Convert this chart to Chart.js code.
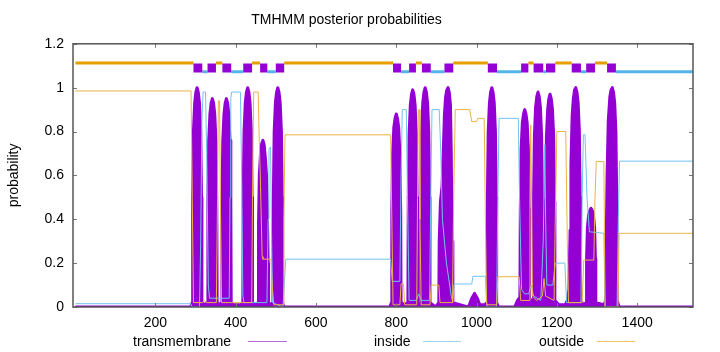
<!DOCTYPE html>
<html>
<head>
<meta charset="utf-8">
<title>TMHMM posterior probabilities</title>
<script src="https://cdn.jsdelivr.net/npm/chart.js@4.4.1/dist/chart.umd.min.js"></script>
<style>
  html, body { margin: 0; padding: 0; background: #fff; }
  #wrap { position: relative; width: 720px; height: 352px; font-family: "Liberation Sans", Arial, sans-serif; }
  #wrap canvas { position: absolute; left: 0; top: 0; }
  .key { position: absolute; top: 333px; font-size: 14px; line-height: 16px; color: #000; white-space: nowrap; }
  .swatch { position: absolute; top: 341px; height: 1px; }
</style>
</head>
<body>
<div id="wrap">
  <canvas id="chart" width="720" height="352"></canvas>
  <span class="key" style="left:133px">transmembrane</span>
  <div class="swatch" style="left:248px;width:39px;background:#b36ee0"></div>
  <span class="key" style="left:374px">inside</span>
  <div class="swatch" style="left:423px;width:38px;background:#9fd3f2"></div>
  <span class="key" style="left:539px">outside</span>
  <div class="swatch" style="left:597px;width:38px;background:#f0c462"></div>
</div>
<script>
// ── Axis setup ─────────────────────────────
var xMin = -5, xMax = 1539;
var xTicks = [200, 400, 600, 800, 1000, 1200, 1400];
var yTicks = [0, 0.2, 0.4, 0.6, 0.8, 1, 1.2];

// ── Topology (top band) ────────────────────
var tmSegments = [[295,317],[330,351],[367,389],[419,441],[461,479],[500,521],
  [792,812],[832,849],[864,886],[920,942],[1028,1051],
  [1111,1129],[1142,1166],[1173,1196],[1237,1260],[1273,1295],[1325,1347]];
var outsideLoops = [[1,295],[351,367],[441,461],[521,792],[849,864],[942,1028],
  [1129,1142],[1196,1237],[1295,1325]];
var insideLoops = [[317,330],[389,419],[479,500],[812,832],[886,920],[1051,1111],
  [1166,1173],[1260,1273],[1347,1539]];
var outsideLevel = 1.112, tmLevel = 1.09, insideLevel = 1.072;

// ── Posterior probabilities [residue, p] ───
var tmProb = [[1,0],[288,0],
  [292,.02],[293,.5],[295,.8],[298,.93],[301,.98],[304,1],[307,.98],[310,.93],[313,.8],[315,.5],[316,.02],
  [323,.01],
  [330,.02],[331,.48],[333,.76],[336,.88],[339,.93],[342,.95],[345,.93],[348,.88],[351,.76],[353,.48],[354,.02],
  [359,.01],
  [365,.02],[366,.48],[368,.76],[371,.88],[374,.93],[377,.95],[380,.93],[383,.88],[386,.76],[388,.48],[389,.02],
  [395,.01],[412,.01],
  [418,.02],[419,.5],[421,.8],[424,.93],[427,.98],[430,1],[433,.98],[436,.93],[439,.8],[441,.5],[442,.02],
  [449,.01],
  [456,.02],[457,.38],[459,.6],[462,.7],[465,.745],[468,.76],[471,.74],[474,.68],[477,.6],[479,.45],[481,.2],[482,.02],
  [487,.01],
  [493,.02],[494,.5],[496,.8],[499,.93],[502,.98],[505,1],[508,.98],[511,.93],[514,.8],[516,.5],[517,.02],
  [520,0],[784,0],
  [788,.02],[789,.44],[791,.7],[794,.82],[797,.86],[800,.88],[803,.86],[806,.82],[809,.7],[811,.44],[812,.02],
  [821,.01],
  [829,.02],[830,.5],[832,.79],[835,.92],[838,.97],[841,.99],[844,.97],[847,.92],[850,.79],[852,.5],[853,.02],
  [857,.01],
  [860,.02],[861,.5],[863,.8],[866,.93],[869,.98],[872,1],[875,.98],[878,.93],[881,.8],[883,.5],[884,.02],
  [898,0],
  [906,.02],[907,.3],[910,.48],[914,.55],[917,.7],[920,.88],[923,.96],[926,.99],[929,1],[932,.98],[935,.92],[937,.7],[939,.3],[941,.02],
  [978,0],[982,.01],[988,.04],[995,.062],[1002,.04],[1008,.01],[1020,.01],
  [1026,.02],[1027,.5],[1029,.8],[1032,.93],[1035,.98],[1038,1],[1041,.98],[1044,.93],[1047,.8],[1049,.5],[1050,.02],
  [1055,0],[1095,0],[1102,.03],[1106,.04],
  [1108,.05],[1109,.45],[1111,.72],[1114,.84],[1117,.88],[1120,.9],[1123,.88],[1126,.84],[1129,.72],[1131,.45],[1132,.04],
  [1136,.03],
  [1141,.03],[1142,.49],[1144,.78],[1147,.91],[1150,.96],[1153,.98],[1156,.96],[1159,.91],[1162,.78],[1164,.49],[1165,.03],
  [1168,.03],
  [1171,.03],[1172,.48],[1174,.78],[1177,.9],[1180,.95],[1183,.97],[1186,.95],[1189,.9],[1192,.78],[1194,.48],[1195,.03],
  [1205,.01],[1221,.01],
  [1226,.03],[1230,.08],[1233,.35],[1235,.65],[1238,.87],[1241,.95],[1244,.99],[1247,1],[1250,.98],[1253,.93],[1256,.8],[1258,.5],[1259,.03],
  [1266,.01],
  [1273,.02],[1274,.22],[1276,.36],[1279,.42],[1282,.44],[1285,.45],[1288,.44],[1291,.42],[1294,.36],[1296,.22],[1297,.02],
  [1317,.01],
  [1322,.03],[1323,.3],[1325,.6],[1328,.85],[1332,.96],[1335,.99],[1338,1],[1341,.98],[1344,.93],[1347,.8],[1349,.5],[1350,.03],
  [1355,0],[1539,0]];

var insideProb = [[1,0.015],[288,0.015],[292,0],[310,0],[313,0.3],[316,0.85],[319,0.98],[325,0.98],[328,0.7],
  [332,0.1],[335,0.04],[384,0.04],[386,0.5],[388,0.95],[390,0.98],[412,0.98],[415,0.6],[418,0.05],[421,0.02],
  [478,0.02],[481,0.4],[483,0.72],[487,0.73],[489,0.4],[492,0.02],[518,0],[521,0.1],[525,0.218],
  [786,0.218],[790,0.117],[809,0.117],[812,0.6],[815,0.9],[825,0.9],[828,0.5],[832,0.03],[850,0.03],
  [856,0.06],[862,0.03],[883,0.03],[886,0.5],[889,0.9],[907,0.9],[911,0.7],[915,0.4],[925,0.2],[937,0.05],
  [941,0.02],[944,0.105],[988,0.105],[991,0.14],[1022,0.14],[1026,0],[1050,0],[1053,0.5],[1056,0.86],
  [1104,0.86],[1107,0.5],[1112,0.08],[1120,0.06],[1130,0.06],[1136,0.1],[1142,0.05],[1160,0.03],
  [1166,0.3],[1170,0.74],[1172,0.4],[1175,0.1],[1190,0.1],[1196,0.2],[1220,0.2],[1224,0.02],[1260,0.02],
  [1263,0.5],[1266,0.785],[1270,0.785],[1275,0.5],[1281,0.343],[1317,0.336],[1320,0],[1350,0],
  [1353,0.4],[1356,0.665],[1539,0.665]];

var outsideProb = [[1,0.985],[289,0.985],[292,0.5],[295,0.02],[318,0.02],[322,0.03],[328,0.02],[352,0.02],
  [355,0.5],[357,0.94],[360,0.94],[362,0.5],[365,0.02],[440,0.02],[442,0.5],[445,0.98],[456,0.98],
  [459,0.75],[462,0.55],[466,0.23],[468,0.218],[488,0.218],[491,0.1],[495,0.01],[518,0.01],[520,0.4],
  [523,0.785],[786,0.785],[789,0.4],[792,0.01],[809,0.01],[812,0.105],[818,0.105],[821,0.01],[851,0.01],
  [853,0.5],[855,0.9],[857,0.9],[859,0.4],[862,0.01],[884,0.01],[887,0.1],[906,0.1],[909,0.02],[940,0.02],
  [943,0.5],[947,0.9],[983,0.9],[988,0.845],[1000,0.845],[1003,0.86],[1019,0.86],[1022,0.4],[1025,0.01],
  [1050,0.01],[1053,0.138],[1106,0.138],[1110,0.03],[1131,0.03],[1133,0.5],[1135,0.83],[1137,0.5],
  [1139,0.05],[1150,0.03],[1164,0.05],[1168,0.13],[1172,0.05],[1193,0.03],[1196,0.4],[1200,0.8],
  [1222,0.8],[1226,0.3],[1229,0.02],[1263,0.02],[1267,0.214],[1292,0.214],[1295,0.5],[1298,0.663],
  [1317,0.663],[1320,0],[1352,0],[1355,0.336],[1539,0.336]];

// ── Colours ────────────────────────────────
var PURPLE = '#9400D3', BLUE = '#56B4E9', ORANGE = '#E69F00';
var BLUE_THIN = '#72c2ee', ORANGE_THIN = '#eab444';
var FONT = '"Liberation Sans", Arial, sans-serif';

// ── Helpers ────────────────────────────────
function toPoints(arr) {
  return arr.map(function(p) { return { x: p[0], y: p[1] }; });
}

function bandPoints(segs, level) {
  var pts = [];
  segs.forEach(function(s) {
    pts.push({ x: s[0], y: level }, { x: s[1], y: level }, { x: s[1], y: null });
  });
  return pts;
}

function lineSet(label, data, color, width, order, extra) {
  var ds = {
    label: label, data: data, showLine: true, borderColor: color, borderWidth: width,
    pointRadius: 0, pointHoverRadius: 0, fill: false, tension: 0, order: order, spanGaps: false
  };
  if (extra) Object.assign(ds, extra);
  return ds;
}

// inside tick marks on all four sides + frame
var framePlugin = {
  id: 'frame',
  afterDatasetsDraw: function(chart) {
    var a = chart.chartArea, ctx = chart.ctx;
    var xs = chart.scales.x, ys = chart.scales.y;
    ctx.save();
    ctx.strokeStyle = '#777';
    ctx.lineWidth = 1;
    ctx.beginPath();
    xTicks.forEach(function(v) {
      var px = Math.round(xs.getPixelForValue(v)) + 0.5;
      ctx.moveTo(px, a.bottom); ctx.lineTo(px, a.bottom - 4);
      ctx.moveTo(px, a.top); ctx.lineTo(px, a.top + 4);
    });
    yTicks.forEach(function(v) {
      var py = Math.round(ys.getPixelForValue(v)) + 0.5;
      ctx.moveTo(a.left, py); ctx.lineTo(a.left + 4, py);
      ctx.moveTo(a.right, py); ctx.lineTo(a.right - 4, py);
    });
    ctx.stroke();
    ctx.strokeStyle = '#555';
    ctx.lineWidth = 1.5;
    ctx.strokeRect(a.left, a.top, a.right - a.left, a.bottom - a.top);
    ctx.restore();
  }
};

new Chart(document.getElementById('chart'), {
  type: 'scatter',
  data: {
    datasets: [
      lineSet('tm-band', bandPoints(tmSegments, tmLevel), PURPLE, 9, 0, { borderCapStyle: 'butt' }),
      lineSet('outside-band', bandPoints(outsideLoops, outsideLevel), ORANGE, 3, 1),
      lineSet('inside-band', bandPoints(insideLoops, insideLevel), BLUE, 3, 1),
      lineSet('outside', toPoints(outsideProb), ORANGE_THIN, 1, 2),
      lineSet('inside', toPoints(insideProb), BLUE_THIN, 1, 3),
      lineSet('transmembrane', toPoints(tmProb), PURPLE, 3, 4,
        { fill: 'origin', backgroundColor: PURPLE, borderJoinStyle: 'round' })
    ]
  },
  options: {
    responsive: false,
    animation: false,
    devicePixelRatio: 1,
    layout: { padding: { top: 0, right: 27, bottom: 0, left: 0 } },
    plugins: {
      legend: { display: false },
      tooltip: { enabled: false },
      title: {
        display: true,
        text: 'TMHMM posterior probabilities',
        color: '#000',
        font: { family: FONT, size: 14, weight: 'normal' },
        padding: { top: 12, bottom: 15 }
      }
    },
    scales: {
      x: {
        type: 'linear',
        min: xMin,
        max: xMax,
        grid: { display: false, drawTicks: false },
        border: { display: false },
        afterBuildTicks: function(s) { s.ticks = xTicks.map(function(v) { return { value: v }; }); },
        afterFit: function(s) { s.height = 45; },
        ticks: {
          color: '#000', padding: 8, maxRotation: 0, autoSkip: false,
          font: { family: FONT, size: 14 },
          callback: function(v) { return String(v); }
        }
      },
      y: {
        min: 0,
        max: 1.2,
        grid: { display: false, drawTicks: false },
        border: { display: false },
        afterBuildTicks: function(s) { s.ticks = yTicks.map(function(v) { return { value: v }; }); },
        afterFit: function(s) { s.width = 73; },
        title: {
          display: true, text: 'probability', color: '#000',
          font: { family: FONT, size: 14 }, padding: { top: 6, bottom: 0 }
        },
        ticks: {
          color: '#000', padding: 9,
          font: { family: FONT, size: 14 },
          callback: function(v) { return String(v); }
        }
      }
    }
  },
  plugins: [framePlugin]
});
</script>
</body>
</html>
